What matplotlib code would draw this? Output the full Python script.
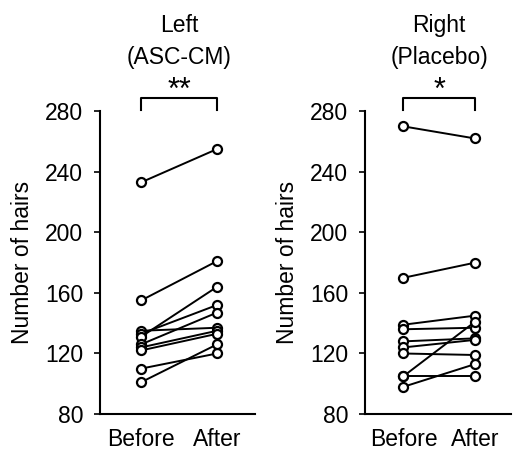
import matplotlib
matplotlib.use("Agg")
import matplotlib.pyplot as plt

plt.rcParams['font.family'] = ['Liberation Sans', 'DejaVu Sans']

conditions = ["Before", "After"]
yticks = [80, 120, 160, 200, 240, 280]

# left side (ASC-CM), one pair per subject
left_before = [233, 155, 135, 133, 131, 126, 124, 122, 110, 101]
left_after = [255, 181, 137, 152, 164, 147, 135, 133, 120, 126]

# right side (placebo)
right_before = [270, 170, 139, 136, 128, 124, 120, 105, 105, 98]
right_after = [262, 180, 145, 137, 130, 129, 119, 141, 105, 113]

panels = [
    ("Left", "(ASC-CM)", "**", left_before, left_after, [0.195, 0.088, 0.302, 0.667]),
    ("Right", "(Placebo)", "*", right_before, right_after, [0.711, 0.088, 0.285, 0.667]),
]

fig = plt.figure(figsize=(5.13, 4.54), dpi=100)

for side, group, stars, before, after, pos in panels:
    ax = fig.add_axes(pos)
    for b, a in zip(before, after):
        ax.plot([0, 1], [b, a], color='black', lw=1.4, marker='o', ms=6.5,
                mfc='white', mec='black', mew=1.6)
    ax.set_xlim(-0.54, 1.5)
    ax.set_ylim(80, 280)
    ax.set_yticks(yticks)
    ax.set_xticks([0, 1])
    ax.set_xticklabels(conditions)
    ax.tick_params(labelsize=16.5, length=4, width=1.2, direction='out')
    ax.tick_params(axis='y', pad=8)
    ax.tick_params(axis='x', length=0, pad=10)
    ax.spines['top'].set_visible(False)
    ax.spines['right'].set_visible(False)
    for s in ['left', 'bottom']:
        ax.spines[s].set_linewidth(1.5)
    ax.set_ylabel("Number of hairs", fontsize=16.5, labelpad=8)

    # significance bracket above the panel
    ax.plot([0, 0, 1, 1], [280.7, 289, 289, 280.7], color='black', lw=1.5,
            clip_on=False)
    ax.text(0.5, 293.5, stars, ha='center', va='center', fontsize=22)
    ax.text(0.5, 315.5, group, ha='center', va='center', fontsize=16.5)
    ax.text(0.5, 336.5, side, ha='center', va='center', fontsize=16.5)

fig.savefig("out.png", dpi=100)
